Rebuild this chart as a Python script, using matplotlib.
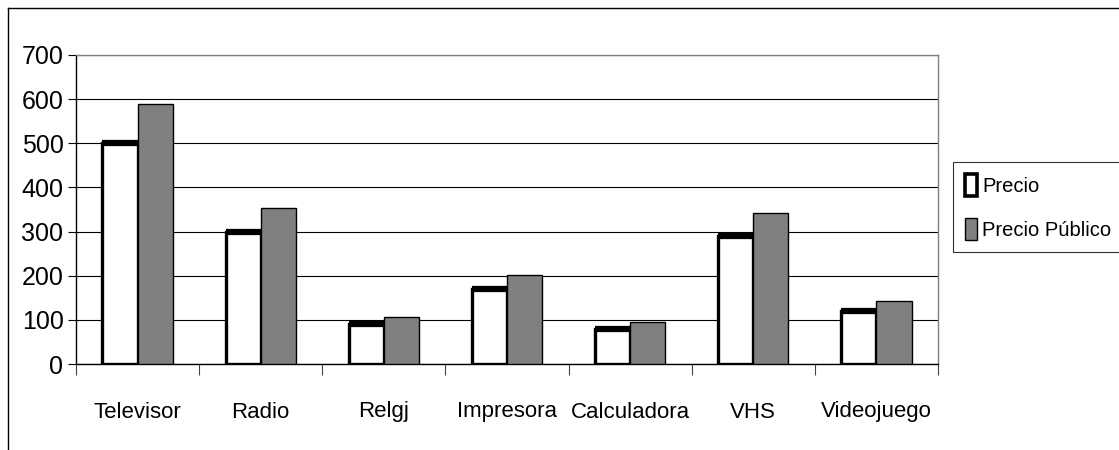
import matplotlib
matplotlib.use("Agg")
import matplotlib.pyplot as plt
import numpy as np
from matplotlib.patches import Rectangle
from matplotlib.lines import Line2D

categories = ["Televisor", "Radio", "Relgj", "Impresora", "Calculadora", "VHS", "Videojuego"]
precio = [500, 300, 90, 170, 80, 290, 120]
precio_publico = [590, 354, 106.2, 200.6, 94.4, 342.2, 141.6]
yticks = [0, 100, 200, 300, 400, 500, 600, 700]

plt.rcParams['font.family'] = ['Liberation Sans Narrow', 'Liberation Sans', 'DejaVu Sans']

fig = plt.figure(figsize=(11.19, 4.5), dpi=100)
ax = fig.add_axes([76/1119, 1-364/450, (938-76)/1119, (364-55)/450])

n = len(categories)
x = np.arange(n)
w = 1/3.5
ax.bar(x - w/2, precio, width=w, color='white', edgecolor='black', linewidth=2.4, zorder=3)
ax.hlines(precio, x - w, x, colors='black', linewidth=4.5, zorder=4)
ax.bar(x + w/2, precio_publico, width=w, color='#808080', edgecolor='black', linewidth=1.0, zorder=3)

ax.set_xlim(-0.5, n - 0.5)
ax.set_ylim(0, 700)
ax.set_yticks(yticks)
ax.set_yticklabels([str(v) for v in yticks], fontsize=18)
ax.yaxis.grid(True, color='black', linewidth=0.8, zorder=0)
ax.set_axisbelow(True)

ax.set_xticks(np.arange(n + 1) - 0.5, minor=False)
ax.set_xticklabels([])
ax.set_xticks(x, minor=True)
ax.set_xticklabels(categories, minor=True, fontsize=16)
ax.tick_params(axis='x', which='major', length=8, width=0.8, direction='out', color='#444444')
ax.tick_params(axis='x', which='minor', length=0, pad=27)
ax.tick_params(axis='y', length=6, width=0.8, direction='out', pad=3)

for s in ['left', 'bottom']:
    ax.spines[s].set_color('black')
    ax.spines[s].set_linewidth(1.0)
for s in ['top', 'right']:
    ax.spines[s].set_color('#808080')
    ax.spines[s].set_linewidth(1.0)

# legend
h1 = Rectangle((0, 0), 1, 1, facecolor='white', edgecolor='black', linewidth=2.6)
h2 = Rectangle((0, 0), 1, 1, facecolor='#808080', edgecolor='black', linewidth=1.0)
leg = fig.legend([h1, h2], ['Precio', 'Precio Público'], loc='upper left',
                 bbox_to_anchor=(953/1119, 1-162/450), frameon=True, fancybox=False,
                 edgecolor='black', fontsize=14.5, handlelength=0.6, handleheight=1.3,
                 handletextpad=0.25, labelspacing=1.1, borderpad=0.6, borderaxespad=0)
leg.get_frame().set_linewidth(0.8)

# chart area border (top and left visible)
fig.add_artist(Line2D([8/1119, 1], [1-8/450, 1-8/450], color='black', linewidth=1.0))
fig.add_artist(Line2D([8/1119, 8/1119], [0, 1-8/450], color='black', linewidth=1.0))

fig.savefig('out.png', dpi=100)
